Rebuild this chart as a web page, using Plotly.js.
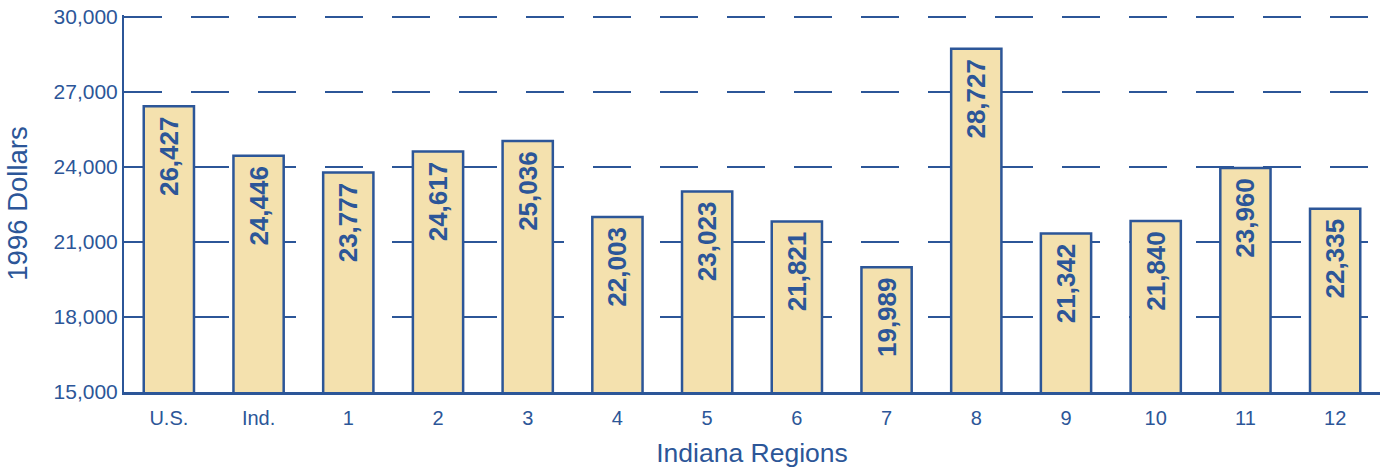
<!DOCTYPE html>
<html>
<head>
<meta charset="utf-8">
<script src="https://cdn.plot.ly/plotly-3.0.1.min.js"></script>
<style>html,body{margin:0;padding:0;background:#fff;}#chart{width:1384px;height:470px;}</style>
</head>
<body>
<div id="chart"></div>
<script>
const categories = ["U.S.", "Ind.", "1", "2", "3", "4", "5", "6", "7", "8", "9", "10", "11", "12"];
const values = [26427, 24446, 23777, 24617, 25036, 22003, 23023, 21821, 19989, 28727, 21342, 21840, 23960, 22335];
const yTicks = [15000, 18000, 21000, 24000, 27000, 30000];

const blue = "#2c5698";
const fill = "#f4e1ae";

const trace = {
  type: "bar",
  x: categories,
  y: values,
  marker: { color: fill, line: { color: blue, width: 2.5 } },
  texttemplate: "%{y:,}\u00a0",
  textposition: "inside",
  insidetextanchor: "end",
  textangle: -90,
  textfont: { family: "Liberation Sans, Arial, sans-serif", size: 26, color: blue, weight: "bold" },
  hoverinfo: "none",
  cliponaxis: false
};

const layout = {
  width: 1384,
  height: 470,
  margin: { l: 124, r: 4, t: 15, b: 78 },
  paper_bgcolor: "#fff",
  plot_bgcolor: "#fff",
  bargap: 0.44,
  showlegend: false,
  font: { family: "Liberation Sans, Arial, sans-serif", color: blue },
  xaxis: {
    type: "category",
    showline: true,
    linecolor: blue,
    linewidth: 3,
    ticks: "",
    ticklabelstandoff: 6,
    tickfont: { size: 20, color: blue },
    showgrid: false,
    title: { text: "Indiana Regions", font: { size: 26.5, color: blue }, standoff: 16 }
  },
  yaxis: {
    range: [15000, 30080],
    tickvals: yTicks,
    ticktext: yTicks.map(v => v.toLocaleString("en-US")),
    showline: true,
    linecolor: blue,
    linewidth: 2,
    ticks: "",
    tickfont: { size: 21, color: blue },
    showgrid: true,
    gridcolor: blue,
    gridwidth: 1.3,
    griddash: "38px,29px",
    zeroline: false,
    title: { text: "1996 Dollars", font: { size: 27.5, color: blue }, standoff: 18 }
  }
};

Plotly.newPlot("chart", [trace], layout, { staticPlot: true, displayModeBar: false });
</script>
</body>
</html>
